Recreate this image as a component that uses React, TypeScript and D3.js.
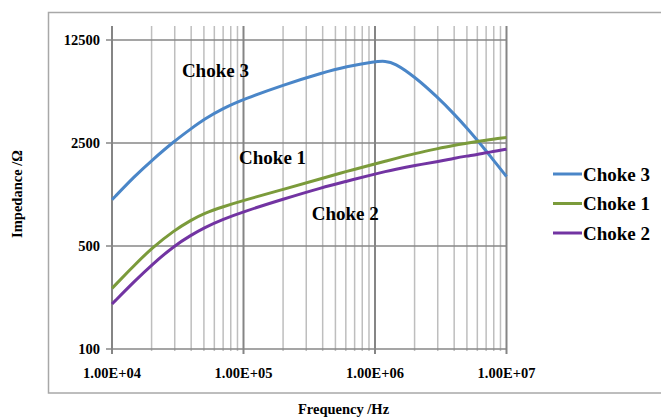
import React, { useEffect, useRef } from "react";
import * as d3 from "d3";

// frequency points (Hz)
const frequencies = [
  1e4, 1.5e4, 2e4, 3e4, 4e4, 5e4, 7e4, 1e5, 2e5, 4e5, 6e5, 1e6, 1.2e6, 1.4e6,
  2e6, 3e6, 4e6, 5e6, 6e6, 7e6, 8e6, 1e7,
];

// impedance (ohm) per choke
const choke3 = [
  1030, 1500, 1900, 2590, 3130, 3620, 4300, 4950, 6190, 7500, 8240, 8950, 9000,
  8750, 7060, 5100, 3930, 3160, 2610, 2210, 1900, 1480,
];
const choke1 = [
  258, 375, 483, 642, 750, 833, 925, 1020, 1210, 1440, 1600, 1800, 1880, 1950,
  2120, 2290, 2410, 2490, 2560, 2610, 2660, 2730,
];
const choke2 = [
  202, 291, 372, 505, 592, 665, 760, 855, 1040, 1250, 1370, 1540, 1600, 1650,
  1760, 1870, 1970, 2040, 2090, 2150, 2190, 2270,
];

const seriesNames = ["Choke 3", "Choke 1", "Choke 2"];
const seriesColors = ["#4a86c8", "#7b9b3b", "#7234a2"];

const yTicks = [100, 500, 2500, 12500];
const xTicks = [1e4, 1e5, 1e6, 1e7];

// inline labels placed on the plot (frequency, impedance of text start)
const annotations = [
  { text: "Choke 3", f: 3.4e4, z: 7010 },
  { text: "Choke 1", f: 9.25e4, z: 1800 },
  { text: "Choke 2", f: 3.3e5, z: 745 },
];

export default function App() {
  const ref = useRef<SVGSVGElement>(null);

  useEffect(() => {
    document.body.style.margin = "0";
    const svg = d3.select(ref.current);
    svg.selectAll("*").remove();

    const width = 661;
    const height = 419;
    const font = "'Liberation Serif', 'Times New Roman', serif";

    const x = d3.scaleLog().domain([1e4, 1e7]).range([112, 506.5]);
    const y = d3.scaleLog().base(5).domain([100, 12500]).range([349, 40]);

    svg.attr("width", width).attr("height", height);

    // outer chart frame
    svg
      .append("rect")
      .attr("x", 48.5)
      .attr("y", 12.5)
      .attr("width", 660)
      .attr("height", 380.5)
      .attr("fill", "none")
      .attr("stroke", "#a8a8a8")
      .attr("stroke-width", 1.5);

    const grid = svg.append("g");

    // minor vertical gridlines
    const minor = x.ticks().filter((t) => !xTicks.includes(t));
    grid
      .selectAll("line.minor")
      .data(minor)
      .join("line")
      .attr("class", "minor")
      .attr("x1", (d) => x(d))
      .attr("x2", (d) => x(d))
      .attr("y1", 26)
      .attr("y2", 351)
      .attr("stroke", "#bebebe")
      .attr("stroke-width", 1.5);

    // horizontal gridlines + left ticks
    grid
      .selectAll("line.h")
      .data(yTicks)
      .join("line")
      .attr("class", "h")
      .attr("x1", 106)
      .attr("x2", x(1e7))
      .attr("y1", (d) => y(d))
      .attr("y2", (d) => y(d))
      .attr("stroke", "#878787")
      .attr("stroke-width", 1.5);

    // major vertical gridlines
    grid
      .selectAll("line.major")
      .data(xTicks)
      .join("line")
      .attr("class", "major")
      .attr("x1", (d) => x(d))
      .attr("x2", (d) => x(d))
      .attr("y1", 26)
      .attr("y2", 354)
      .attr("stroke", "#858585")
      .attr("stroke-width", 2);

    // tick labels
    svg
      .append("g")
      .selectAll("text")
      .data(yTicks)
      .join("text")
      .attr("x", 100)
      .attr("y", (d) => y(d))
      .attr("dy", "0.35em")
      .attr("text-anchor", "end")
      .style("font", `bold 14.5px ${font}`)
      .text((d) => d);

    svg
      .append("g")
      .selectAll("text")
      .data(xTicks)
      .join("text")
      .attr("x", (d) => x(d))
      .attr("y", 378)
      .attr("text-anchor", "middle")
      .style("font", `bold 14.5px ${font}`)
      .text((d) => d.toExponential(2).toUpperCase().replace(/E\+(\d)$/, "E+0$1"));

    // series (B-spline smoothing irons out reading noise)
    const allSeries = [choke3, choke1, choke2];
    const line = d3
      .line<number>()
      .x((_, i) => x(frequencies[i]))
      .y((d) => y(d))
      .curve(d3.curveBasis);

    svg
      .append("g")
      .selectAll("path")
      .data(allSeries)
      .join("path")
      .attr("d", (d) => line(d))
      .attr("fill", "none")
      .attr("stroke", (_, i) => seriesColors[i])
      .attr("stroke-width", 3)
      .attr("stroke-linejoin", "round");

    // annotations
    svg
      .append("g")
      .selectAll("text")
      .data(annotations)
      .join("text")
      .attr("x", (d) => x(d.f))
      .attr("y", (d) => y(d.z))
      .style("font", `bold 19px ${font}`)
      .text((d) => d.text);

    // legend
    const legend = svg
      .append("g")
      .selectAll("g")
      .data(seriesNames)
      .join("g")
      .attr("transform", (_, i) => `translate(553,${174 + i * 29.5})`);
    legend
      .append("line")
      .attr("x1", 0)
      .attr("x2", 29)
      .attr("stroke", (_, i) => seriesColors[i])
      .attr("stroke-width", 3);
    legend
      .append("text")
      .attr("x", 30)
      .attr("y", 6.5)
      .style("font", `bold 19px ${font}`)
      .text((d) => d);

    // axis titles
    svg
      .append("text")
      .attr("transform", "translate(22,194) rotate(-90)")
      .attr("text-anchor", "middle")
      .style("font", `bold 14.5px ${font}`)
      .text("Impedance /Ω");

    svg
      .append("text")
      .attr("x", 343.5)
      .attr("y", 414)
      .attr("text-anchor", "middle")
      .style("font", `bold 14.5px ${font}`)
      .text("Frequency /Hz");
  }, []);

  return <svg ref={ref} style={{ display: "block" }} />;
}
